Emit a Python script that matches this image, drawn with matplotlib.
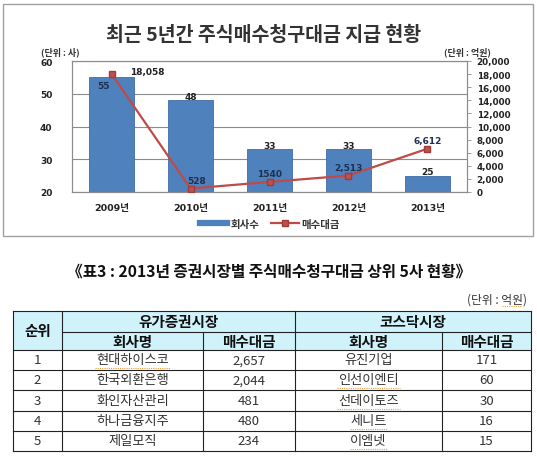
import matplotlib
matplotlib.use("Agg")
import matplotlib.pyplot as plt
from matplotlib.patches import Rectangle
from matplotlib.ticker import FuncFormatter, MultipleLocator

# ---------------------------------------------------------------------------
# Data
# ---------------------------------------------------------------------------
years = ["2009년", "2010년", "2011년", "2012년", "2013년"]
company_counts = [55, 48, 33, 33, 25]
payments = [18058, 528, 1540, 2513, 6612]
payment_labels = ["18,058", "528", "1540", "2,513", "6,612"]

ranks = ["1", "2", "3", "4", "5"]
kospi_names = ["현대하이스코", "한국외환은행", "화인자산관리", "하나금융지주", "제일모직"]
kospi_amounts = ["2,657", "2,044", "481", "480", "234"]
kosdaq_names = ["유진기업", "인선이엔티", "선데이토즈", "세니트", "이엠넷"]
kosdaq_amounts = ["171", "60", "30", "16", "15"]
# cells carrying a spell-check underline in the source document: (row, col)
underlined = [(0, 1), (1, 3), (2, 3), (3, 3), (4, 3)]

chart_title = "최근 5년간 주식매수청구대금 지급 현황"
table_title = "《표3 : 2013년 증권시장별 주식매수청구대금 상위 5사 현황》"

KR = ["Noto Sans CJK KR", "DejaVu Sans"]
NUM = ["DejaVu Sans", "Noto Sans CJK KR"]
plt.rcParams["font.family"] = KR

W, H = 537, 464
fig = plt.figure(figsize=(W / 100, H / 100), dpi=100)
fig.patch.set_facecolor("white")

# overlay in pixel coordinates for frame, titles and table
ov = fig.add_axes([0, 0, 1, 1], zorder=0)
ov.set_xlim(0, W)
ov.set_ylim(H, 0)
ov.axis("off")

ov.add_patch(Rectangle((3, 5), 530, 232, fill=False, edgecolor="#A0A0A0", linewidth=1.0))
ov.text(264, 35, chart_title, ha="center", va="center", fontsize=14,
        fontweight="bold", color="#333333")
ov.text(60, 52, "(단위 : 사)", ha="center", va="center", fontsize=6.5,
        fontweight="bold", color="#333333")
ov.text(467, 52, "(단위 : 억원)", ha="center", va="center", fontsize=6.5,
        fontweight="bold", color="#333333")

# ---------------------------------------------------------------------------
# Chart
# ---------------------------------------------------------------------------
left, right, top, bottom = 72, 467, 62, 193
ax = fig.add_axes([left / W, 1 - bottom / H, (right - left) / W, (bottom - top) / H], zorder=2)
ax.set_facecolor("none")
x = list(range(len(years)))

ax.bar(x, company_counts, width=0.56, color="#4F81BD", edgecolor="#3E6DA8",
       linewidth=0.6, zorder=3)
ax.set_ylim(20, 60)
ax.set_xlim(-0.5, len(years) - 0.5)
ax.yaxis.set_major_locator(MultipleLocator(10))
ax.grid(axis="y", color="#8C8C8C", linewidth=0.8, zorder=0)
ax.set_axisbelow(True)
ax.tick_params(axis="y", length=0, labelsize=6.5, pad=14, colors="#222222")
ax.tick_params(axis="x", length=0, labelsize=6.8, pad=8, colors="#222222")
ax.set_xticks(x)
ax.set_xticklabels(years, fontweight="bold", family=NUM)
for lab in ax.get_yticklabels():
    lab.set_fontweight("bold")
    lab.set_family(NUM)
for s in ax.spines.values():
    s.set_color("#8C8C8C")
    s.set_linewidth(0.8)

for i, v in enumerate(company_counts):
    if i == 0:
        ax.text(i - 0.1, v - 2.5, str(v), ha="center", va="center", fontsize=6.5,
                fontweight="bold", color="#1F3050", family=NUM, zorder=5)
    else:
        ax.text(i, v + 1.3, str(v), ha="center", va="center", fontsize=6.5,
                fontweight="bold", color="#222222", family=NUM, zorder=5)

ax2 = ax.twinx()
ax2.set_ylim(0, 20000)
ax2.plot(x, payments, color="#BE4B48", linewidth=1.6, marker="s", markersize=5,
         markerfacecolor="#C0504D", markeredgecolor="#A03C39", zorder=4)
ax2.yaxis.set_major_locator(MultipleLocator(2000))
ax2.yaxis.set_major_formatter(FuncFormatter(lambda v, p: f"{int(v):,}"))
ax2.tick_params(axis="y", length=3, width=0.6, color="#8C8C8C", labelsize=6.3,
                pad=4, labelcolor="#222222")
for lab in ax2.get_yticklabels():
    lab.set_fontweight("bold")
    lab.set_family(NUM)
for s in ax2.spines.values():
    s.set_color("#8C8C8C")
    s.set_linewidth(0.8)

label_offsets = [(0.45, 400), (0.08, 1200), (0, 1300), (0, 1300), (0, 1300)]
for i, (v, t) in enumerate(zip(payments, payment_labels)):
    dx, dy = label_offsets[i]
    ax2.text(i + dx, v + dy, t, ha="center", va="center", fontsize=6.5,
             fontweight="bold", color="#222222" if i == 0 else "#1F3050",
             family=NUM, zorder=5)

# legend
leg_handles = [
    plt.Line2D([], [], color="#4F81BD", linewidth=4.5),
    plt.Line2D([], [], color="#BE4B48", linewidth=1.6, marker="s", markersize=5,
               markerfacecolor="#C0504D", markeredgecolor="#A03C39"),
]
fig.legend(leg_handles, ["회사수", "매수대금"], loc="center",
           bbox_to_anchor=(270 / W, 1 - 225 / H), ncol=2, frameon=False,
           fontsize=7.5, handlelength=2.6, columnspacing=1.2, handletextpad=0.3)
for t in fig.legends[0].get_texts():
    t.set_fontweight("bold")
    t.set_color("#333333")

# ---------------------------------------------------------------------------
# Table
# ---------------------------------------------------------------------------
ov.text(269, 272, table_title, ha="center", va="center", fontsize=11.3,
        fontweight="bold", color="#111111")
ov.text(527, 300, "(단위 : 억원)", ha="right", va="center", fontsize=8.5,
        color="#333333")
ov.plot([502, 522], [307, 307], color="#E8A040", linewidth=0.8, linestyle=(0, (1, 1)))

cols = [13, 62, 203, 295, 442, 531]
rows = [312, 333, 351, 371, 391, 412, 432, 452]

ov.add_patch(Rectangle((cols[0], rows[0]), cols[-1] - cols[0], rows[2] - rows[0],
                       facecolor="#D0F2FA", edgecolor="none"))
# horizontal lines
ov.plot([cols[1], cols[-1]], [rows[1], rows[1]], color="#222222", linewidth=0.8)
for r in [rows[0]] + rows[2:]:
    ov.plot([cols[0], cols[-1]], [r, r], color="#222222", linewidth=0.8)
# vertical lines
for c in [cols[0], cols[1], cols[3], cols[5]]:
    ov.plot([c, c], [rows[0], rows[-1]], color="#222222", linewidth=0.8)
for c in [cols[2], cols[4]]:
    ov.plot([c, c], [rows[1], rows[-1]], color="#222222", linewidth=0.8)

hdr = dict(ha="center", va="center", fontsize=10.5, fontweight="bold", color="#111111")
ov.text((cols[0] + cols[1]) / 2, (rows[0] + rows[2]) / 2, "순위", **hdr)
ov.text((cols[1] + cols[3]) / 2, (rows[0] + rows[1]) / 2, "유가증권시장", **hdr)
ov.text((cols[3] + cols[5]) / 2, (rows[0] + rows[1]) / 2, "코스닥시장", **hdr)
for a, b, t in [(1, 2, "회사명"), (2, 3, "매수대금"), (3, 4, "회사명"), (4, 5, "매수대금")]:
    ov.text((cols[a] + cols[b]) / 2, (rows[1] + rows[2]) / 2, t, **hdr)

cell = dict(ha="center", va="center", fontsize=9.5, color="#333333")
for i in range(len(ranks)):
    yc = (rows[2 + i] + rows[3 + i]) / 2
    row_vals = [ranks[i], kospi_names[i], kospi_amounts[i], kosdaq_names[i], kosdaq_amounts[i]]
    for j, val in enumerate(row_vals):
        ov.text((cols[j] + cols[j + 1]) / 2, yc, val, **cell)
        if (i, j) in underlined:
            half = len(val) * 6.3
            xc = (cols[j] + cols[j + 1]) / 2
            ov.plot([xc - half, xc + half], [yc + 8, yc + 8], color="#E8A040",
                    linewidth=0.8, linestyle=(0, (1, 1)))

fig.savefig("out.png", dpi=100, facecolor="white")
